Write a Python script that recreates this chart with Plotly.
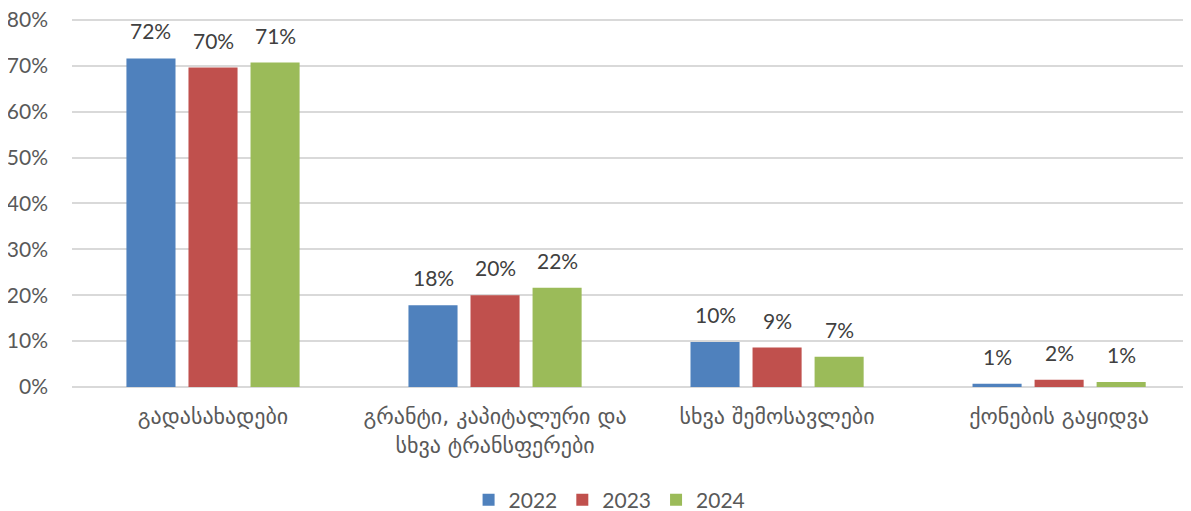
import plotly.graph_objects as go

categories = ["გადასახადები", "გრანტი, კაპიტალური და<br>სხვა ტრანსფერები", "სხვა შემოსავლები", "ქონების გაყიდვა"]
years = ["2022", "2023", "2024"]
values_2022 = [71.6, 17.8, 9.8, 0.7]
values_2023 = [69.6, 20.0, 8.6, 1.6]
values_2024 = [70.7, 21.6, 6.6, 1.1]
labels_2022 = ["72%", "18%", "10%", "1%"]
labels_2023 = ["70%", "20%", "9%", "2%"]
labels_2024 = ["71%", "22%", "7%", "1%"]
colors = ["#4F81BD", "#C0504D", "#9BBB59"]

FONT = "Lato, DejaVu Sans, sans-serif"
GREY = "#595959"
SLOT = 0.22
BAR_W = 0.174

fig = go.Figure()
annotations = []
series = [values_2022, values_2023, values_2024]
labs_all = [labels_2022, labels_2023, labels_2024]
for k, (name, vals, labs, col) in enumerate(zip(years, series, labs_all, colors)):
    xs = [i + (k - 1) * SLOT for i in range(len(categories))]
    fig.add_trace(go.Bar(
        x=xs, y=vals, name=name, width=BAR_W,
        marker=dict(color=col, line=dict(width=0)),
        hoverinfo="y+name",
    ))
    for x, v, t in zip(xs, vals, labs):
        annotations.append(dict(x=x, y=v, xref="x", yref="y", text=t, showarrow=False,
                                yanchor="bottom", yshift=13,
                                font=dict(size=21, color="#404040", family=FONT)))

fig.update_layout(
    width=1191, height=511,
    margin=dict(l=64, r=0, t=10, b=132, autoexpand=False),
    paper_bgcolor="white", plot_bgcolor="white",
    barmode="overlay",
    font=dict(family=FONT, color=GREY, size=21),
    showlegend=True,
    legend=dict(orientation="h", x=0.477, xanchor="center", y=-0.251, yanchor="top",
                font=dict(size=21, color=GREY), traceorder="normal"),
    annotations=annotations,
)
fig.update_yaxes(range=[0, 80.4], tickvals=[0, 10, 20, 30, 40, 50, 60, 70, 80],
                 ticktext=["0%", "10%", "20%", "30%", "40%", "50%", "60%", "70%", "80%"],
                 showgrid=True, ticklabeloverflow="allow",
                 gridcolor="#D9D9D9", gridwidth=1.5, zeroline=True, zerolinecolor="#D9D9D9",
                 zerolinewidth=1.5, tickfont=dict(size=21, color=GREY), ticks="",
                 showline=False, automargin=False, ticklabelstandoff=23)
fig.update_xaxes(range=[-0.5, 3.496], tickvals=list(range(len(categories))), ticktext=categories,
                 tickfont=dict(size=22, color=GREY, family="DejaVu Sans, Lato, sans-serif"),
                 showline=False, ticks="", showgrid=False, zeroline=False,
                 automargin=False, ticklabelstandoff=14)

fig.write_html("out.html")
